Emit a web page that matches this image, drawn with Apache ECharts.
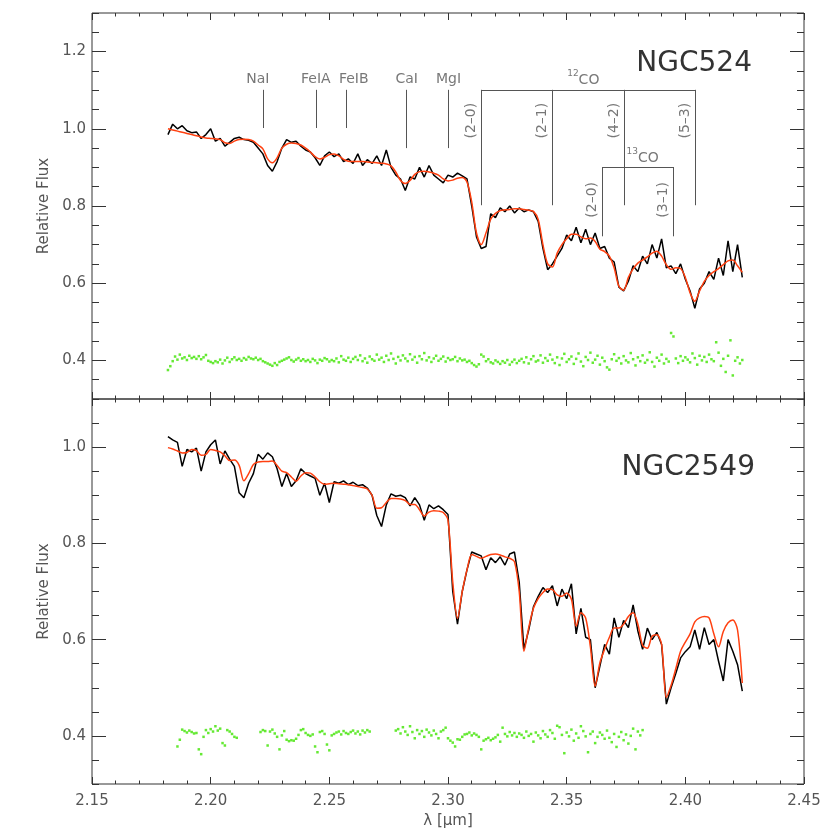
<!DOCTYPE html>
<html>
<head>
<meta charset="utf-8">
<title>NGC524 / NGC2549 K-band spectra</title>
<script src="https://cdn.jsdelivr.net/npm/echarts@6.0.0/dist/echarts.min.js"></script>
<style>
  html, body { margin: 0; padding: 0; background: #fff; }
  #chart { width: 830px; height: 830px; }
</style>
</head>
<body>
<div id="chart"></div>
<script>
// wavelength of the spectra (micron)
const wave = [
  2.182,2.184,2.186,2.188,2.190,2.192,2.194,2.196,2.198,2.200,
  2.202,2.204,2.206,2.208,2.210,2.212,2.214,2.216,2.218,2.220,
  2.222,2.224,2.226,2.228,2.230,2.232,2.234,2.236,2.238,2.240,
  2.242,2.244,2.246,2.248,2.250,2.252,2.254,2.256,2.258,2.260,
  2.262,2.264,2.266,2.268,2.270,2.272,2.274,2.276,2.278,2.280,
  2.282,2.284,2.286,2.288,2.290,2.292,2.294,2.296,2.298,2.300,
  2.302,2.304,2.306,2.308,2.310,2.312,2.314,2.316,2.318,2.320,
  2.322,2.324,2.326,2.328,2.330,2.332,2.334,2.336,2.338,2.340,
  2.342,2.344,2.346,2.348,2.350,2.352,2.354,2.356,2.358,2.360,
  2.362,2.364,2.366,2.368,2.370,2.372,2.374,2.376,2.378,2.380,
  2.382,2.384,2.386,2.388,2.390,2.392,2.394,2.396,2.398,2.400,
  2.402,2.404,2.406,2.408,2.410,2.412,2.414,2.416,2.418,2.420,
  2.422,2.424
]

// NGC524 : observed (black) and model (red)
const fluxTop = [
  0.985,1.012,1.000,1.008,0.995,0.990,0.992,0.975,0.985,1.000,
  0.968,0.975,0.955,0.965,0.975,0.978,0.972,0.970,0.965,0.950,
  0.935,0.905,0.890,0.915,0.950,0.972,0.965,0.968,0.955,0.945,
  0.940,0.925,0.905,0.930,0.940,0.928,0.935,0.915,0.922,0.910,
  0.935,0.905,0.920,0.910,0.930,0.905,0.945,0.900,0.880,0.870,
  0.840,0.875,0.870,0.900,0.875,0.905,0.880,0.870,0.860,0.880,
  0.875,0.885,0.878,0.870,0.800,0.720,0.690,0.695,0.780,0.770,
  0.795,0.785,0.800,0.782,0.795,0.785,0.790,0.785,0.760,0.690,
  0.635,0.650,0.670,0.690,0.725,0.710,0.745,0.705,0.740,0.700,
  0.730,0.690,0.695,0.665,0.655,0.590,0.580,0.605,0.645,0.630,
  0.670,0.650,0.700,0.665,0.715,0.640,0.645,0.625,0.650,0.610,
  0.580,0.535,0.585,0.600,0.630,0.610,0.665,0.620,0.710,0.630,
  0.700,0.615
]
const modelTop = [
  1.000,0.997,0.994,0.991,0.988,0.985,0.982,0.979,0.976,0.975,
  0.974,0.972,0.964,0.962,0.968,0.972,0.973,0.972,0.968,0.958,
  0.948,0.922,0.912,0.925,0.950,0.960,0.963,0.962,0.958,0.950,
  0.940,0.928,0.922,0.926,0.933,0.935,0.930,0.921,0.916,0.915,
  0.915,0.915,0.914,0.913,0.912,0.911,0.909,0.904,0.888,0.866,
  0.858,0.866,0.882,0.889,0.890,0.888,0.885,0.880,0.870,0.865,
  0.867,0.872,0.874,0.862,0.810,0.730,0.700,0.730,0.766,0.781,
  0.788,0.790,0.791,0.793,0.793,0.791,0.789,0.786,0.765,0.700,
  0.650,0.642,0.678,0.700,0.715,0.727,0.727,0.720,0.715,0.717,
  0.708,0.688,0.682,0.670,0.640,0.592,0.582,0.615,0.637,0.652,
  0.660,0.668,0.678,0.683,0.670,0.648,0.636,0.640,0.638,0.615,
  0.575,0.553,0.580,0.605,0.620,0.630,0.638,0.648,0.658,0.660,
  0.645,0.628
]

// NGC2549 : observed (black) and model (red)
const fluxBot = [
  1.022,1.015,1.010,0.960,0.995,0.990,0.998,0.950,0.990,1.005,
  1.015,0.965,0.992,0.975,0.960,0.905,0.895,0.925,0.945,0.985,
  0.975,0.988,0.980,0.955,0.918,0.945,0.918,0.930,0.955,0.945,
  0.940,0.935,0.900,0.925,0.885,0.928,0.925,0.930,0.922,0.927,
  0.920,0.922,0.915,0.900,0.858,0.835,0.880,0.903,0.898,0.900,
  0.895,0.878,0.895,0.880,0.848,0.880,0.872,0.878,0.870,0.860,
  0.700,0.632,0.700,0.745,0.782,0.778,0.774,0.745,0.770,0.760,
  0.772,0.755,0.778,0.782,0.720,0.580,0.620,0.668,0.690,0.708,
  0.698,0.712,0.670,0.705,0.685,0.716,0.612,0.665,0.605,0.600,
  0.500,0.545,0.590,0.570,0.645,0.605,0.640,0.625,0.672,0.618,
  0.580,0.624,0.600,0.615,0.590,0.466,0.500,0.530,0.562,0.575,
  0.585,0.620,0.580,0.625,0.590,0.600,0.555,0.514,0.600,0.576,
  0.548,0.493
]
const modelBot = [
  0.999,0.996,0.992,0.988,0.989,0.995,0.993,0.983,0.985,0.995,
  0.993,0.990,0.982,0.972,0.973,0.962,0.930,0.945,0.964,0.969,
  0.970,0.970,0.971,0.962,0.950,0.947,0.938,0.929,0.940,0.947,
  0.946,0.938,0.928,0.923,0.924,0.925,0.924,0.923,0.922,0.920,
  0.918,0.916,0.913,0.900,0.873,0.874,0.885,0.893,0.893,0.892,
  0.889,0.881,0.881,0.870,0.857,0.865,0.868,0.867,0.864,0.848,
  0.720,0.644,0.700,0.745,0.777,0.773,0.769,0.773,0.777,0.778,
  0.776,0.772,0.769,0.762,0.700,0.576,0.625,0.665,0.685,0.698,
  0.705,0.704,0.693,0.690,0.697,0.684,0.628,0.656,0.645,0.585,
  0.503,0.552,0.580,0.605,0.624,0.624,0.632,0.648,0.656,0.632,
  0.588,0.582,0.607,0.610,0.590,0.480,0.505,0.540,0.576,0.595,
  0.612,0.637,0.645,0.648,0.645,0.612,0.585,0.617,0.635,0.641,
  0.620,0.510
]

// residuals (green), offset to 0.4
const waveRes = [
  2.182,2.183,2.184,2.185,2.186,2.187,2.188,2.189,2.190,2.191,
  2.192,2.193,2.194,2.195,2.196,2.197,2.198,2.199,2.200,2.201,
  2.202,2.203,2.204,2.205,2.206,2.207,2.208,2.209,2.210,2.211,
  2.212,2.213,2.214,2.215,2.216,2.217,2.218,2.219,2.220,2.221,
  2.222,2.223,2.224,2.225,2.226,2.227,2.228,2.229,2.230,2.231,
  2.232,2.233,2.234,2.235,2.236,2.237,2.238,2.239,2.240,2.241,
  2.242,2.243,2.244,2.245,2.246,2.247,2.248,2.249,2.250,2.251,
  2.252,2.253,2.254,2.255,2.256,2.257,2.258,2.259,2.260,2.261,
  2.262,2.263,2.264,2.265,2.266,2.267,2.268,2.269,2.270,2.271,
  2.272,2.273,2.274,2.275,2.276,2.277,2.278,2.279,2.280,2.281,
  2.282,2.283,2.284,2.285,2.286,2.287,2.288,2.289,2.290,2.291,
  2.292,2.293,2.294,2.295,2.296,2.297,2.298,2.299,2.300,2.301,
  2.302,2.303,2.304,2.305,2.306,2.307,2.308,2.309,2.310,2.311,
  2.312,2.313,2.314,2.315,2.316,2.317,2.318,2.319,2.320,2.321,
  2.322,2.323,2.324,2.325,2.326,2.327,2.328,2.329,2.330,2.331,
  2.332,2.333,2.334,2.335,2.336,2.337,2.338,2.339,2.340,2.341,
  2.342,2.343,2.344,2.345,2.346,2.347,2.348,2.349,2.350,2.351,
  2.352,2.353,2.354,2.355,2.356,2.357,2.358,2.359,2.360,2.361,
  2.362,2.363,2.364,2.365,2.366,2.367,2.368,2.369,2.370,2.371,
  2.372,2.373,2.374,2.375,2.376,2.377,2.378,2.379,2.380,2.381,
  2.382,2.383,2.384,2.385,2.386,2.387,2.388,2.389,2.390,2.391,
  2.392,2.393,2.394,2.395,2.396,2.397,2.398,2.399,2.400,2.401,
  2.402,2.403,2.404,2.405,2.406,2.407,2.408,2.409,2.410,2.411,
  2.412,2.413,2.414,2.415,2.416,2.417,2.418,2.419,2.420,2.421,
  2.422,2.423,2.424
]
const residTop = [
  0.375,0.385,0.398,0.410,0.402,0.415,0.405,0.408,0.401,0.412,
  0.406,0.409,0.404,0.411,0.403,0.408,0.414,0.399,0.396,0.393,
  0.398,0.395,0.402,0.392,0.400,0.407,0.396,0.403,0.408,0.401,
  0.404,0.399,0.406,0.402,0.409,0.405,0.403,0.407,0.401,0.404,
  0.398,0.395,0.392,0.389,0.386,0.393,0.388,0.396,0.399,0.402,
  0.405,0.408,0.401,0.397,0.402,0.406,0.399,0.403,0.398,0.401,
  0.396,0.404,0.400,0.393,0.402,0.399,0.406,0.403,0.397,0.401,
  0.398,0.405,0.395,0.411,0.402,0.399,0.407,0.396,0.404,0.409,
  0.401,0.413,0.398,0.405,0.394,0.410,0.403,0.399,0.415,0.402,
  0.407,0.396,0.412,0.401,0.418,0.404,0.392,0.409,0.400,0.413,
  0.405,0.398,0.416,0.402,0.409,0.394,0.411,0.403,0.419,0.400,
  0.408,0.396,0.405,0.412,0.399,0.404,0.410,0.397,0.406,0.401,
  0.403,0.409,0.398,0.405,0.400,0.402,0.396,0.399,0.393,0.388,
  0.384,0.390,0.415,0.410,0.398,0.403,0.395,0.392,0.400,0.396,
  0.391,0.398,0.394,0.401,0.389,0.396,0.402,0.393,0.399,0.404,
  0.395,0.408,0.392,0.403,0.411,0.397,0.400,0.413,0.394,0.406,
  0.399,0.415,0.402,0.393,0.408,0.388,0.405,0.417,0.396,0.403,
  0.410,0.391,0.404,0.418,0.397,0.385,0.409,0.401,0.420,0.394,
  0.402,0.412,0.389,0.407,0.398,0.382,0.376,0.403,0.416,0.399,
  0.406,0.392,0.411,0.400,0.395,0.419,0.403,0.387,0.408,0.398,
  0.413,0.394,0.401,0.421,0.396,0.384,0.407,0.399,0.415,0.392,
  0.404,0.397,0.471,0.462,0.405,0.393,0.411,0.399,0.408,0.402,
  0.395,0.418,0.406,0.389,0.412,0.400,0.409,0.396,0.415,0.403,
  0.398,0.447,0.420,0.386,0.404,0.370,0.412,0.452,0.361,0.399,
  0.408,0.392,0.401
]
const residBot = [
  null,null,null,null,0.378,0.392,0.413,0.410,0.407,0.411,
  0.408,0.405,0.406,0.372,0.362,0.398,0.412,0.406,0.414,0.409,
  0.420,0.411,0.415,0.385,0.380,0.412,0.409,0.404,0.398,0.396,
  null,null,null,null,null,null,null,null,null,0.408,
  0.412,0.410,0.380,0.409,0.413,0.405,0.398,0.372,0.401,0.410,
  0.392,0.389,0.391,0.390,0.394,0.402,0.412,0.414,0.406,0.402,
  0.400,0.403,0.378,0.366,0.408,0.410,0.404,0.382,0.370,0.401,
  0.404,0.407,0.409,0.403,0.410,0.406,0.404,0.408,0.411,0.405,
  0.409,0.403,0.411,0.407,0.412,0.409,null,null,null,null,
  null,null,null,null,null,null,0.411,0.414,0.405,0.418,
  0.409,0.402,0.420,0.408,0.395,0.412,0.404,0.410,0.398,0.413,
  0.407,0.401,0.411,0.404,0.395,0.409,0.412,0.417,0.395,0.390,
  0.386,0.378,0.393,0.392,0.398,0.403,0.404,0.407,0.401,0.405,
  0.402,0.398,0.372,0.390,0.393,0.396,0.391,0.394,0.397,0.402,
  0.388,0.417,0.404,0.399,0.408,0.401,0.406,0.398,0.405,0.402,
  0.396,0.409,0.400,0.404,0.388,0.407,0.401,0.395,0.410,0.403,
  0.398,0.412,0.406,0.394,0.421,0.418,0.402,0.364,0.407,0.399,
  0.413,0.390,0.405,0.396,0.420,0.410,0.399,0.366,0.404,0.409,
  0.385,0.398,0.407,0.402,0.394,0.411,0.396,0.387,0.404,0.377,
  0.398,0.408,0.391,0.403,0.384,0.400,0.415,0.372,0.409,0.401,
  0.412,null,null,null,null,null,null,null,null,null,
  null,null,null,null,null,null,null,null,null,null,
  null,null,null,null,null,null,null,null,null,null,
  null,null,null,null,null,null,null,null,null,null,
  null,null,null
]

// line identifications (top panel)
const featNames = ['NaI', 'FeIA', 'FeIB', 'CaI', 'MgI']
const featWaves = [2.2222, 2.2443, 2.2570, 2.2822, 2.2999]
const featTextWaves = [2.2199, 2.2443, 2.2603, 2.2826, 2.3002]
const featLow = [1.002, 1.002, 1.002, 0.950, 0.950]
const co12Names = ['(2–0)', '(2–1)', '(4–2)', '(5–3)']
const co12Waves = [2.3139, 2.3440, 2.3741, 2.4041]
const co13Names = ['(2–0)', '(3–1)']
const co13Waves = [2.3650, 2.3950]

const topLabels = [0.4, 0.6, 0.8, 1.0, 1.2]
const botLabels = [0.4, 0.6, 0.8, 1.0]

const FONT = 'DejaVu Sans'
const INK = '#333'
const TXT = '#555'
const GREEN = '#3fe400'

// annotation geometry in data units of the top panel
const featTop = 1.101, featTextY = 1.127
const co12Bar = 1.101, co12Low = 0.802, co12TextY = 1.021
const co13Bar = 0.901, co13Low = 0.7215, co13TextY = 0.816

let annoLines = []
featWaves.forEach((w, i) => annoLines.push({ coords: [[w, featTop], [w, featLow[i]]] }))
annoLines.push({ coords: [[co12Waves[0], co12Bar], [co12Waves[co12Waves.length - 1], co12Bar]] })
co12Waves.forEach(w => annoLines.push({ coords: [[w, co12Bar], [w, co12Low]] }))
annoLines.push({ coords: [[co13Waves[0], co13Bar], [co13Waves[1], co13Bar]] })
co13Waves.forEach(w => annoLines.push({ coords: [[w, co13Bar], [w, co13Low]] }))

let featText = featNames.map((n, i) => ({ name: n, value: [featTextWaves[i], featTextY] }))
let coText = co12Names.map((n, i) => ({ name: n, value: [co12Waves[i], co12TextY] }))
  .concat(co13Names.map((n, i) => ({ name: n, value: [co13Waves[i], co13TextY] })))
let molText = [
  { name: '{s|12}{n|CO}', value: [(co12Waves[0] + co12Waves[3]) / 2 - 0.002, 1.131] },
  { name: '{s|13}{n|CO}', value: [(co13Waves[0] + co13Waves[1]) / 2 + 0.002, 0.928] }
]

function pairs(xs, ys) {
  return xs.map((x, i) => [x, ys[i]]).filter(p => p[1] !== null)
}

function xAx(grid, pos, showLabel) {
  return {
    type: 'value', gridIndex: grid, position: pos,
    min: 2.15, max: 2.45, interval: 0.05,
    axisLine: { show: false }, splitLine: { show: false },
    axisTick: { show: true, inside: true, length: 7, lineStyle: { color: INK } },
    minorTick: { show: true, splitNumber: 5, length: 3.5, lineStyle: { color: INK } },
    minorSplitLine: { show: false },
    axisLabel: { show: showLabel, formatter: v => v.toFixed(2), color: TXT, fontSize: 15, fontFamily: FONT, margin: 10 },
    name: showLabel ? 'λ [μm]' : '', nameLocation: 'middle', nameGap: 30,
    nameTextStyle: { color: TXT, fontSize: 15, fontFamily: FONT }
  }
}
// short ticks every 0.05
function yMinor(grid, pos, max) {
  return {
    type: 'value', gridIndex: grid, position: pos, min: 0.3, max: max, interval: 0.05,
    axisLine: { show: false }, splitLine: { show: false },
    axisTick: { show: true, inside: true, length: 7, lineStyle: { color: INK } },
    axisLabel: { show: false }
  }
}
// long ticks and labels every 0.2
function yMajor(grid, pos, max, vals) {
  let left = pos === 'left'
  return {
    type: 'value', gridIndex: grid, position: pos, min: 0.3, max: max, interval: 0.05,
    axisLine: { show: false }, splitLine: { show: false },
    axisTick: { show: true, inside: true, length: 14, customValues: vals, lineStyle: { color: INK } },
    axisLabel: { show: left, customValues: vals, formatter: v => v.toFixed(1), color: TXT, fontSize: 15, fontFamily: FONT, margin: 6 },
    name: left ? 'Relative Flux' : '', nameLocation: 'middle', nameGap: 38, nameRotate: 90,
    nameTextStyle: { color: TXT, fontSize: 15, fontFamily: FONT }
  }
}

// invisible anchor points that only carry text
function textSeries(data, label) {
  return {
    type: 'scatter', xAxisIndex: 0, yAxisIndex: 0, data: data, symbolSize: 1,
    itemStyle: { color: 'rgba(0,0,0,0)' }, silent: true, z: 5,
    label: Object.assign({ show: true, position: 'inside', formatter: '{b}', color: TXT, fontSize: 14, fontFamily: FONT }, label)
  }
}

const chart = echarts.init(document.getElementById('chart'), null, { renderer: 'canvas' })

const option = {
  animation: false,
  backgroundColor: '#fff',
  title: [
    { text: 'NGC524', right: 73, top: 45, textStyle: { fontSize: 28, fontWeight: 'normal', color: INK, fontFamily: FONT } },
    { text: 'NGC2549', right: 70, top: 449, textStyle: { fontSize: 28, fontWeight: 'normal', color: INK, fontFamily: FONT } }
  ],
  grid: [
    { left: 92, right: 26, top: 13, height: 386, show: true, borderColor: INK, borderWidth: 1 },
    { left: 92, right: 26, top: 399, height: 387, show: true, borderColor: INK, borderWidth: 1 }
  ],
  xAxis: [xAx(0, 'bottom', false), xAx(0, 'top', false), xAx(1, 'bottom', true), xAx(1, 'top', false)],
  yAxis: [
    yMinor(0, 'left', 1.3), yMajor(0, 'left', 1.3, topLabels), yMinor(0, 'right', 1.3), yMajor(0, 'right', 1.3, topLabels),
    yMinor(1, 'left', 1.1), yMajor(1, 'left', 1.1, botLabels), yMinor(1, 'right', 1.1), yMajor(1, 'right', 1.1, botLabels)
  ],
  series: [
    { type: 'scatter', xAxisIndex: 0, yAxisIndex: 0, data: pairs(waveRes, residTop), symbol: 'rect', symbolSize: 2.5, itemStyle: { color: GREEN }, silent: true },
    { type: 'line', xAxisIndex: 0, yAxisIndex: 0, data: pairs(wave, fluxTop), showSymbol: false, lineStyle: { color: '#000', width: 1.5 }, silent: true },
    { type: 'line', xAxisIndex: 0, yAxisIndex: 0, data: pairs(wave, modelTop), showSymbol: false, smooth: 0.3, lineStyle: { color: '#ff4010', width: 1.5 }, silent: true },

    { type: 'scatter', xAxisIndex: 2, yAxisIndex: 4, data: pairs(waveRes, residBot), symbol: 'rect', symbolSize: 2.5, itemStyle: { color: GREEN }, silent: true },
    { type: 'line', xAxisIndex: 2, yAxisIndex: 4, data: pairs(wave, fluxBot), showSymbol: false, lineStyle: { color: '#000', width: 1.5 }, silent: true },
    { type: 'line', xAxisIndex: 2, yAxisIndex: 4, data: pairs(wave, modelBot), showSymbol: false, smooth: 0.3, lineStyle: { color: '#ff4010', width: 1.5 }, silent: true },

    { type: 'lines', coordinateSystem: 'cartesian2d', xAxisIndex: 0, yAxisIndex: 0, data: annoLines, lineStyle: { color: TXT, width: 1, opacity: 1 }, silent: true },
    textSeries(featText, {}),
    // offset is applied in the rotated frame: [0,-10] moves the text 10px left of its line
    textSeries(coText, { rotate: 90, offset: [0, -10] }),
    textSeries(molText, {
      rich: {
        s: { fontSize: 9, color: TXT, fontFamily: FONT, verticalAlign: 'top', lineHeight: 18 },
        n: { fontSize: 14, color: TXT, fontFamily: FONT, verticalAlign: 'bottom', lineHeight: 18 }
      }
    })
  ]
}

chart.setOption(option)
</script>
</body>
</html>
